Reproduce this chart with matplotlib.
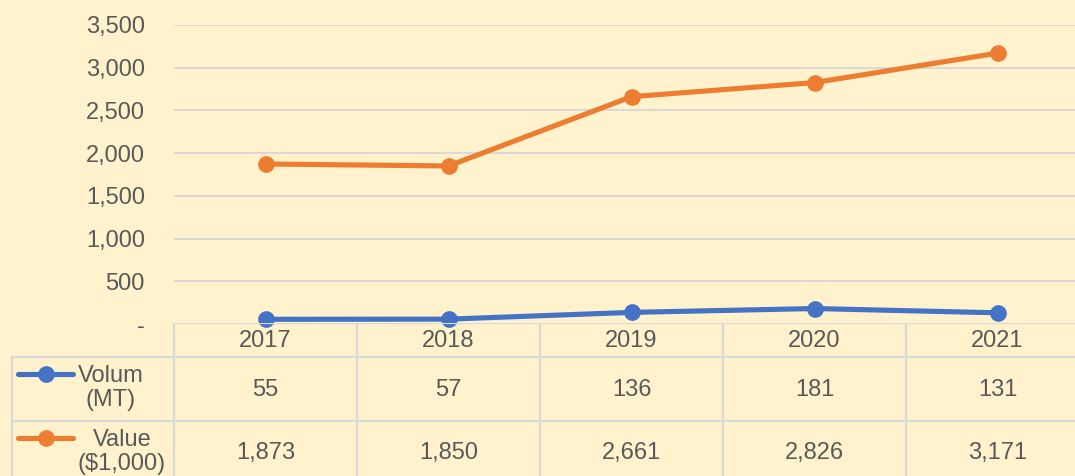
import matplotlib
matplotlib.use("Agg")
import matplotlib.pyplot as plt
from matplotlib.lines import Line2D

# data
years = ["2017", "2018", "2019", "2020", "2021"]
volume_mt = [55, 57, 136, 181, 131]
value_k = [1873, 1850, 2661, 2826, 3171]
series_labels = ["Volum\n(MT)", "Value\n($1,000)"]
y_ticks = [0, 500, 1000, 1500, 2000, 2500, 3000, 3500]

BG = "#FFF2CC"
GRID = "#D9D9D9"
TXT = "#595959"
BLUE = "#4472C4"
ORANGE = "#ED7D31"

plt.rcParams["font.family"] = ["Liberation Sans", "DejaVu Sans"]

W, H = 1075, 476
fig = plt.figure(figsize=(W / 100, H / 100), dpi=100)
fig.patch.set_facecolor(BG)

# pixel layout (Excel-like plot area that runs past the right edge)
px_left, px_right = 174, 1089
px_top, px_zero = 25, 324
cat_w = (px_right - px_left) / len(years)
fs = 17

ax = fig.add_axes([px_left / W, 1 - px_zero / H,
                   (px_right - px_left) / W, (px_zero - px_top) / H])
ax.set_facecolor(BG)
x = list(range(len(years)))
ax.set_xlim(-0.5, len(years) - 0.5)
ax.set_ylim(0, 3500)
ax.set_yticks(y_ticks)
ax.set_yticklabels(["-" if t == 0 else f"{t:,}" for t in y_ticks])
ax.tick_params(axis="y", length=0, pad=21, labelsize=fs, labelcolor=TXT)
ax.set_xticks([])
for s in ax.spines.values():
    s.set_visible(False)
ax.grid(axis="y", color=GRID, linewidth=1.4)
ax.set_axisbelow(True)

series = [(volume_mt, BLUE), (value_k, ORANGE)]
for vals, col in series:
    ax.plot(x, vals, color=col, lw=3.7, marker="o", ms=11, solid_capstyle="round",
            zorder=3, clip_on=False)

# data table below the plot, drawn in pixel coordinates
tax = fig.add_axes([0, 0, 1, 1 - px_zero / H + 0.002], facecolor="none")
tax.set_xlim(0, W)
tax.set_ylim(H, px_zero)
tax.axis("off")

row_tops = [324, 358, 421, 484]
tbl_left = 12
lc = dict(color=GRID, lw=1.6)
tax.plot([px_left, W], [row_tops[0]] * 2, **lc)
for yy in row_tops[1:3]:
    tax.plot([tbl_left, W], [yy, yy], **lc)
tax.plot([tbl_left, tbl_left], [row_tops[1], H], **lc)
for i in range(len(years) + 1):
    xx = px_left + i * cat_w
    tax.plot([xx, xx], [row_tops[0], H], **lc)

for i, yr in enumerate(years):
    cx = px_left + (i + 0.5) * cat_w
    tax.text(cx, (row_tops[0] + row_tops[1]) / 2 + 1, yr, ha="center", va="center",
             fontsize=fs, color=TXT)
    for r, (vals, col) in enumerate(series):
        cy = (row_tops[r + 1] + row_tops[r + 2]) / 2 + 1
        tax.text(cx, cy, f"{vals[i]:,}", ha="center", va="center", fontsize=fs, color=TXT)

# legend keys in the first column
key_y = [375, 438]
label_x = [111, 122]
for r, (vals, col) in enumerate(series):
    tax.add_line(Line2D([18, 73], [key_y[r]] * 2, color=col, lw=3.7,
                        solid_capstyle="round"))
    tax.plot([46], [key_y[r]], marker="o", ms=11, color=col)
    tax.text(label_x[r], key_y[r] + 14, series_labels[r], ha="center", va="center",
             fontsize=fs, color=TXT, linespacing=1.12, multialignment="center")

fig.savefig("out.png", dpi=100, facecolor=BG)
